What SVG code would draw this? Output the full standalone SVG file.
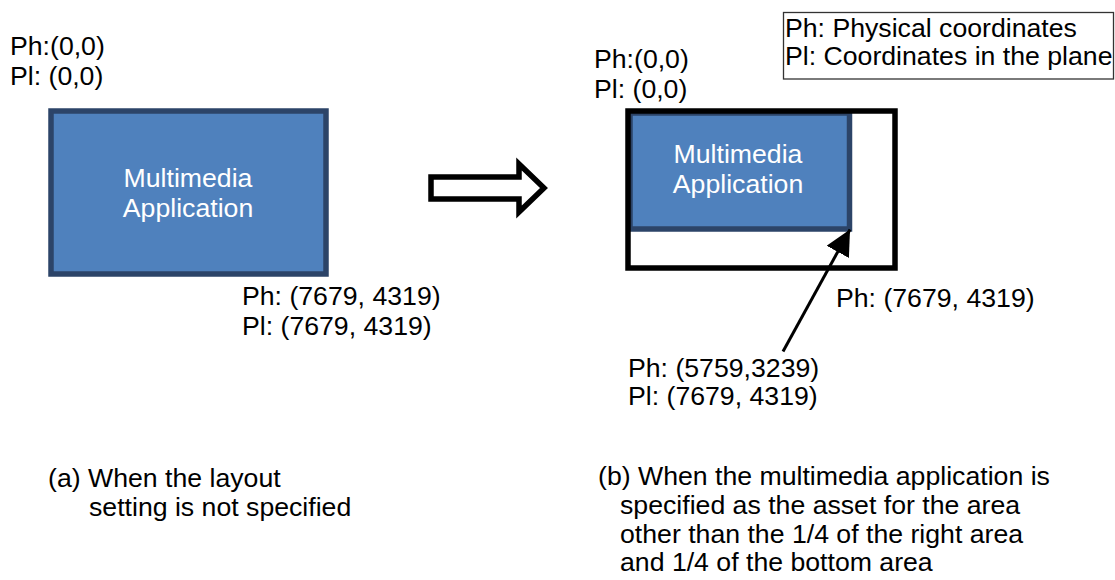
<svg xmlns="http://www.w3.org/2000/svg" width="1115" height="580" viewBox="0 0 1115 580">
<defs>
<style>
text{font-family:"Liberation Sans",Arial,sans-serif;font-size:26.67px;fill:#000}
.w{fill:#fff;text-anchor:middle}
.app{fill:#4F81BD;stroke:#2C4468;stroke-width:5.5}
</style>
<marker id="ah" viewBox="0 0 10 10" refX="10" refY="5" markerWidth="8.5" markerHeight="8.5" markerUnits="strokeWidth" orient="auto">
<path d="M0,0 L10,5 L0,10 Z" fill="#000"/>
</marker>
</defs>
<rect width="1115" height="580" fill="#fff"/>

<g id="left-app">
<rect class="app" x="51" y="111" width="275" height="163"/>
<text class="w" x="188" y="187">Multimedia</text>
<text class="w" x="188" y="217">Application</text>
</g>
<g id="left-origin">
<text x="10" y="55">Ph:(0,0)</text>
<text x="10" y="85">Pl: (0,0)</text>
</g>
<g id="left-end">
<text x="242" y="305">Ph: (7679, 4319)</text>
<text x="242" y="335">Pl: (7679, 4319)</text>
</g>

<g id="block-arrow">
<path d="M431,177 L519,177 L519,164 L544,188 L519,212 L519,199 L431,199 Z" fill="#fff" stroke="#000" stroke-width="5.5" stroke-linejoin="miter"/>
</g>

<g id="right-app">
<rect class="app" x="630" y="113" width="219.5" height="116"/>
<text class="w" x="738" y="163">Multimedia</text>
<text class="w" x="738" y="193">Application</text>
</g>
<g id="plane">
<rect x="628" y="111" width="267" height="157" fill="none" stroke="#000" stroke-width="5.5"/>
</g>
<g id="right-origin">
<text x="594" y="68">Ph:(0,0)</text>
<text x="594" y="98">Pl: (0,0)</text>
</g>
<g id="right-end">
<text x="836" y="307">Ph: (7679, 4319)</text>
</g>
<g id="app-end">
<text x="628" y="377">Ph: (5759,3239)</text>
<text x="628" y="405">Pl: (7679, 4319)</text>
</g>

<g id="legend">
<rect x="783.5" y="12.5" width="330" height="66.5" fill="#fff" stroke="#333" stroke-width="1.3"/>
<text x="785" y="37">Ph: Physical coordinates</text>
<text x="785" y="65">Pl: Coordinates in the plane</text>
</g>

<g id="connectors">
<line x1="783" y1="351.5" x2="850" y2="229.5" stroke="#000" stroke-width="3" marker-end="url(#ah)"/>
</g>

<g id="caption-a">
<text x="48" y="487">(a) When the layout</text>
<text x="89" y="516">setting is not specified</text>
</g>
<g id="caption-b">
<text x="598" y="485">(b) When the multimedia application is</text>
<text x="620" y="514">specified as the asset for the area</text>
<text x="620" y="543">other than the 1/4 of the right area</text>
<text x="620" y="571">and 1/4 of the bottom area</text>
</g>
</svg>
